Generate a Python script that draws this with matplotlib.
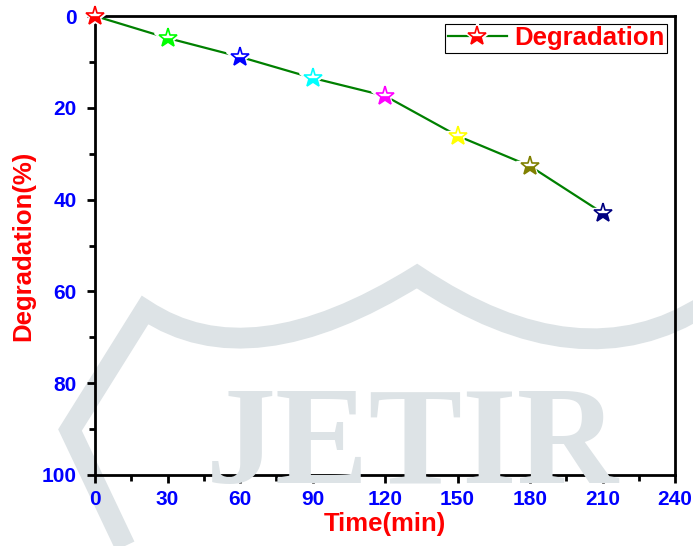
import matplotlib
matplotlib.use("Agg")
import matplotlib.pyplot as plt
from matplotlib.lines import Line2D
from matplotlib.ticker import MultipleLocator
from matplotlib.path import Path
from matplotlib.patches import PathPatch
from matplotlib.transforms import Affine2D, IdentityTransform
from matplotlib.legend_handler import HandlerTuple

time_min = [0, 30, 60, 90, 120, 150, 180, 210]
degradation = [0, 4.8, 8.9, 13.5, 17.4, 26.1, 32.7, 42.9]
marker_colors = ["#ff0000", "#00ff00", "#0000ff", "#00ffff", "#ff00ff", "#ffff00", "#808000", "#000080"]
xticks = [0, 30, 60, 90, 120, 150, 180, 210, 240]
yticks = [0, 20, 40, 60, 80, 100]

plt.rcParams['font.family'] = ['Liberation Sans', 'DejaVu Sans']

W, H = 693, 546
fig = plt.figure(figsize=(W / 100, H / 100), dpi=100)
ax = fig.add_axes([95 / W, 1 - 475 / H, 580 / W, 459 / H])
ax.patch.set_alpha(0)

# ---- background watermark (decoration, pixel coords from top-left) ----
wm = '#dde3e6'
px = Affine2D().scale(1, -1).translate(0, H) + IdentityTransform()
band_verts = [(125, 546), (70, 430), (145, 310),
              (250, 380), (417, 276),
              (580, 385), (705, 305)]
band_codes = [Path.MOVETO, Path.LINETO, Path.LINETO,
              Path.CURVE3, Path.CURVE3,
              Path.CURVE3, Path.CURVE3]
band = PathPatch(Path(band_verts, band_codes), facecolor='none', edgecolor=wm,
                 lw=15, joinstyle='miter', transform=px, zorder=0)
fig.add_artist(band)
fig.text(206 / W, 1 - 483 / H, "JETIR", fontsize=101, family=['Liberation Serif'],
         fontweight='bold', color=wm, ha='left', va='baseline', zorder=0)

# ---- data ----
ax.plot(time_min, degradation, color='#008000', lw=1.6, zorder=2)
for x, y, c in zip(time_min, degradation, marker_colors):
    ax.plot([x], [y], marker='*', ms=21, color='white', mec='white', ls='none', zorder=3, clip_on=False)
    ax.plot([x], [y], marker='*', ms=14, color=c, mec=c, mew=1.2, fillstyle='bottom',
            markerfacecoloralt='white', ls='none', zorder=4, clip_on=False)

ax.set_xlim(0, 240)
ax.set_ylim(100, 0)
ax.set_xticks(xticks)
ax.set_yticks(yticks)
ax.xaxis.set_minor_locator(MultipleLocator(15))
ax.yaxis.set_minor_locator(MultipleLocator(10))
ax.tick_params(which='both', direction='out', width=2, top=False, right=False, color='black')
ax.tick_params(which='major', length=6)
ax.tick_params(axis='x', which='major', pad=5)
ax.tick_params(axis='y', which='major', pad=7)
ax.tick_params(which='minor', length=4)
for lab in ax.get_xticklabels() + ax.get_yticklabels():
    lab.set_color('#0000ff')
    lab.set_fontweight('bold')
    lab.set_fontsize(15)
for s in ax.spines.values():
    s.set_linewidth(2)

ax.set_xlabel("Time(min)", color='#ff0000', fontweight='bold', fontsize=18.5, labelpad=2)
ax.set_ylabel("Degradation(%)", color='#ff0000', fontweight='bold', fontsize=18.5, labelpad=5)

h_line = Line2D([], [], color='#008000', lw=1.6)
h_halo = Line2D([], [], ls='none', marker='*', ms=21, color='white', mec='white')
h_star = Line2D([], [], ls='none', marker='*', ms=14, mfc='#ff0000', mec='#ff0000',
                fillstyle='bottom', markerfacecoloralt='white', mew=1.2)
leg = ax.legend([(h_line, h_halo, h_star)], ["Degradation"], loc='upper right', fancybox=False,
                framealpha=1, edgecolor='black', prop={'weight': 'bold', 'size': 18.5},
                borderpad=0.1, handlelength=2.3, handletextpad=0.3, borderaxespad=0.3,
                numpoints=1, handler_map={tuple: HandlerTuple(ndivide=1, pad=0)})
for t in leg.get_texts():
    t.set_color('#ff0000')
leg.get_frame().set_linewidth(0.8)

fig.savefig("out.png", dpi=100)
